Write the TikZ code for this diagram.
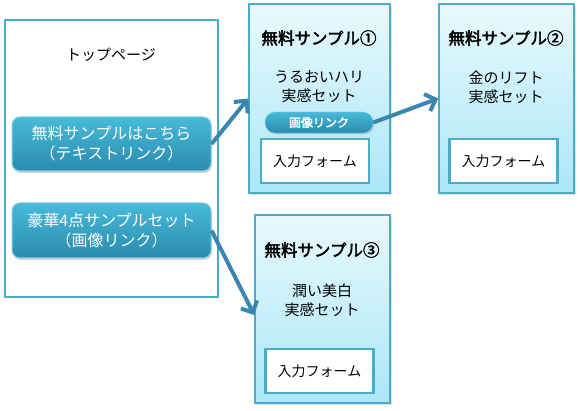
\documentclass[tikz,border=0pt]{standalone}
\usepackage{fontspec}
\newfontfamily\jp[BoldFont={Noto Sans CJK JP},BoldFeatures={FakeBold=2.5}]{Noto Sans CJK JP}
\usetikzlibrary{arrows.meta,shadows}
\definecolor{bordo}{HTML}{4AACC6}
\definecolor{cielo}{HTML}{E8F9FD}
\definecolor{cielofondo}{HTML}{AAE7F8}
\definecolor{tastosu}{HTML}{48BAD9}
\definecolor{tastogiu}{HTML}{2A8BAE}
\definecolor{freccia}{HTML}{3A86AE}

\tikzset{
  pagebox/.style={draw=bordo, line width=2.5pt, fill=white, minimum width=213pt, minimum height=277pt},
  samplebox/.style={draw=bordo, line width=1.5pt, top color=cielo, bottom color=cielofondo,
    drop shadow={opacity=0.25, shadow xshift=2pt, shadow yshift=-2pt}},
  btn/.style={draw=tastosu!70!white, line width=1pt, rounded corners=8pt, top color=tastosu, bottom color=tastogiu,
    text=white, align=center, font=\jp\fontsize{16}{20}\selectfont, minimum width=199pt,
    drop shadow={opacity=0.35, shadow xshift=1pt, shadow yshift=-2pt}},
  pill/.style={draw=tastosu!70!white, rounded corners=10pt, top color=tastosu, bottom color=tastogiu,
    text=white, font=\jp\bfseries\fontsize{12}{14}\selectfont, minimum width=108pt, minimum height=21pt,
    inner sep=0pt, drop shadow={opacity=0.35, shadow xshift=1pt, shadow yshift=-1.5pt}},
  formbox/.style={draw=bordo, line width=2.5pt, fill=white, font=\jp\fontsize{14}{16}\selectfont,
    minimum width=108pt, minimum height=44pt},
  titolo/.style={font=\jp\bfseries\fontsize{16.5}{19}\selectfont},
  corpo/.style={align=center, font=\jp\fontsize{15}{19}\selectfont},
  linkarrow/.style={draw=freccia, line width=4pt, -{Straight Barb[length=9pt, width=18pt, line width=4pt]}}
}

\begin{document}
\begin{tikzpicture}[x=1pt, y=-1pt]
  \useasboundingbox (0,0) rectangle (580,411);
  % Top page
  \node[pagebox] (top) at (111.5,158.5) {};
  \node[font=\jp\fontsize{15}{18}\selectfont] (toptitle) at (111,55) {トップページ};
  \node[btn, minimum height=54pt] (btntext) at (111.5,144) {無料サンプルはこちら\\（テキストリンク）};
  \node[btn, minimum height=55pt] (btnimage) at (111.5,230.5) {豪華4点サンプルセット\\（画像リンク）};
  % Sample 1
  \node[samplebox, minimum width=141pt, minimum height=189pt] (sampleA) at (319.5,98.5) {};
  \node[titolo] (titleA) at (319,38) {無料サンプル①};
  \node[corpo] (textA) at (319,87) {うるおいハリ\\実感セット};
  \node[pill] (linkA) at (319,122.5) {画像リンク};
  \node[formbox] (formA) at (315,161) {入力フォーム};
  % Sample 2
  \node[samplebox, minimum width=135pt, minimum height=189pt] (sampleB) at (506.5,98.5) {};
  \node[titolo] (titleB) at (506,38) {無料サンプル②};
  \node[corpo] (textB) at (506,87) {金のリフト\\実感セット};
  \node[formbox] (formB) at (503.5,161) {入力フォーム};
  % Sample 3
  \node[samplebox, minimum width=135pt, minimum height=188pt] (sampleC) at (322.5,309) {};
  \node[titolo] (titleC) at (322,250) {無料サンプル③};
  \node[corpo] (textC) at (322,300) {潤い美白\\実感セット};
  \node[formbox] (formC) at (319.5,371) {入力フォーム};
  % Links
  \draw[linkarrow] (btntext.east) -- (sampleA.west);
  \draw[linkarrow] (linkA.east) -- (sampleB.west);
  \draw[linkarrow] (btnimage.east) -- ([yshift=-6pt]sampleC.west);
\end{tikzpicture}
\end{document}
